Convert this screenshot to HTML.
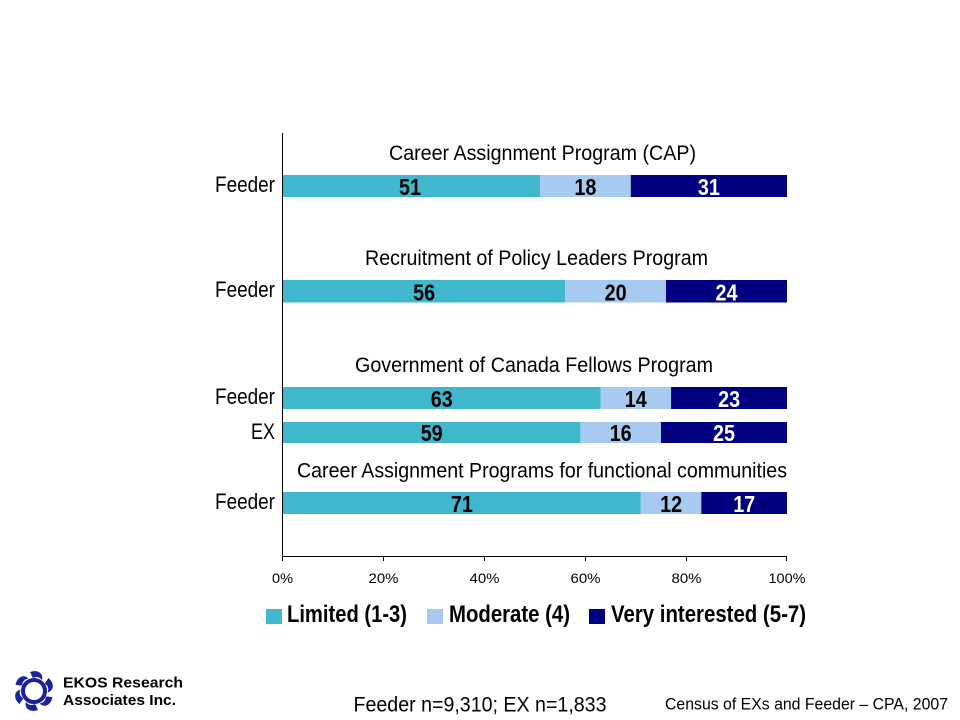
<!DOCTYPE html>
<html>
<head>
<meta charset="utf-8">
<style>
  html, body { margin:0; padding:0; background:#fff; }
  svg { display:block; }
  text { font-family: "Liberation Sans Narrow", "Liberation Sans", sans-serif; }
</style>
</head>
<body>
<svg width="960" height="720" viewBox="0 0 960 720" xmlns="http://www.w3.org/2000/svg">
  <rect width="960" height="720" fill="#fff"/>

  <!-- Bars -->
  <rect x="283" y="175" width="257" height="22" fill="#3FB7CD"/>
  <rect x="540" y="175" width="90.8" height="22" fill="#A6CAF0"/>
  <rect x="630.8" y="175" width="156.2" height="22" fill="#000080"/>

  <rect x="283" y="280" width="282.2" height="22.5" fill="#3FB7CD"/>
  <rect x="565.2" y="280" width="100.8" height="22.5" fill="#A6CAF0"/>
  <rect x="666" y="280" width="121" height="22.5" fill="#000080"/>

  <rect x="283" y="387" width="317.5" height="22" fill="#3FB7CD"/>
  <rect x="600.5" y="387" width="70.6" height="22" fill="#A6CAF0"/>
  <rect x="671.1" y="387" width="115.9" height="22" fill="#000080"/>

  <rect x="283" y="422" width="297.4" height="21" fill="#3FB7CD"/>
  <rect x="580.4" y="422" width="80.6" height="21" fill="#A6CAF0"/>
  <rect x="661" y="422" width="126" height="21" fill="#000080"/>

  <rect x="283" y="492" width="357.8" height="22" fill="#3FB7CD"/>
  <rect x="640.8" y="492" width="60.5" height="22" fill="#A6CAF0"/>
  <rect x="701.3" y="492" width="85.7" height="22" fill="#000080"/>

  <!-- Axes -->
  <line x1="282.5" y1="133" x2="282.5" y2="556.5" stroke="#000" stroke-width="1"/>
  <line x1="282.5" y1="556.5" x2="787" y2="556.5" stroke="#000" stroke-width="1"/>
  <g stroke="#000" stroke-width="1">
    <line x1="282.5" y1="556" x2="282.5" y2="561"/>
    <line x1="383.5" y1="556" x2="383.5" y2="561"/>
    <line x1="484.5" y1="556" x2="484.5" y2="561"/>
    <line x1="585.5" y1="556" x2="585.5" y2="561"/>
    <line x1="686.5" y1="556" x2="686.5" y2="561"/>
    <line x1="786.5" y1="556" x2="786.5" y2="561"/>
  </g>

  <!-- Tick labels -->
  <g font-size="14" fill="#000" text-anchor="middle">
    <text x="282.5" y="583" textLength="21" lengthAdjust="spacingAndGlyphs" style="font-family:'Liberation Sans',sans-serif">0%</text>
    <text x="383.5" y="583" textLength="30" lengthAdjust="spacingAndGlyphs" style="font-family:'Liberation Sans',sans-serif">20%</text>
    <text x="484.5" y="583" textLength="30" lengthAdjust="spacingAndGlyphs" style="font-family:'Liberation Sans',sans-serif">40%</text>
    <text x="585.5" y="583" textLength="30" lengthAdjust="spacingAndGlyphs" style="font-family:'Liberation Sans',sans-serif">60%</text>
    <text x="686.5" y="583" textLength="30" lengthAdjust="spacingAndGlyphs" style="font-family:'Liberation Sans',sans-serif">80%</text>
    <text x="787" y="583" textLength="37" lengthAdjust="spacingAndGlyphs" style="font-family:'Liberation Sans',sans-serif">100%</text>
  </g>

  <!-- Group titles -->
  <g font-size="21.5" fill="#000">
    <text x="389" y="160" textLength="307" lengthAdjust="spacingAndGlyphs">Career Assignment Program (CAP)</text>
    <text x="365" y="265" textLength="343" lengthAdjust="spacingAndGlyphs">Recruitment of Policy Leaders Program</text>
    <text x="355" y="372" textLength="358" lengthAdjust="spacingAndGlyphs">Government of Canada Fellows Program</text>
    <text x="297" y="477.5" textLength="490" lengthAdjust="spacingAndGlyphs">Career Assignment Programs for functional communities</text>
  </g>

  <!-- Row labels -->
  <g font-size="22" fill="#000" text-anchor="end">
    <text x="275" y="192" textLength="60" lengthAdjust="spacingAndGlyphs">Feeder</text>
    <text x="275" y="297" textLength="60" lengthAdjust="spacingAndGlyphs">Feeder</text>
    <text x="275" y="404" textLength="60" lengthAdjust="spacingAndGlyphs">Feeder</text>
    <text x="275" y="439" textLength="24" lengthAdjust="spacingAndGlyphs">EX</text>
    <text x="275" y="509" textLength="60" lengthAdjust="spacingAndGlyphs">Feeder</text>
  </g>

  <!-- Value labels -->
  <g font-size="23" font-weight="bold" text-anchor="middle">
    <text x="410" y="195" fill="#000" textLength="22" lengthAdjust="spacingAndGlyphs">51</text>
    <text x="585.4" y="195" fill="#000" textLength="22" lengthAdjust="spacingAndGlyphs">18</text>
    <text x="708.9" y="195" fill="#fff" textLength="22" lengthAdjust="spacingAndGlyphs">31</text>

    <text x="424.1" y="300.5" fill="#000" textLength="22" lengthAdjust="spacingAndGlyphs">56</text>
    <text x="615.6" y="300.5" fill="#000" textLength="22" lengthAdjust="spacingAndGlyphs">20</text>
    <text x="726.5" y="300.5" fill="#fff" textLength="22" lengthAdjust="spacingAndGlyphs">24</text>

    <text x="441.8" y="407" fill="#000" textLength="22" lengthAdjust="spacingAndGlyphs">63</text>
    <text x="635.8" y="407" fill="#000" textLength="22" lengthAdjust="spacingAndGlyphs">14</text>
    <text x="729.1" y="407" fill="#fff" textLength="22" lengthAdjust="spacingAndGlyphs">23</text>

    <text x="431.7" y="441" fill="#000" textLength="22" lengthAdjust="spacingAndGlyphs">59</text>
    <text x="620.7" y="441" fill="#000" textLength="22" lengthAdjust="spacingAndGlyphs">16</text>
    <text x="724" y="441" fill="#fff" textLength="22" lengthAdjust="spacingAndGlyphs">25</text>

    <text x="461.9" y="512" fill="#000" textLength="22" lengthAdjust="spacingAndGlyphs">71</text>
    <text x="671.1" y="512" fill="#000" textLength="22" lengthAdjust="spacingAndGlyphs">12</text>
    <text x="744.2" y="512" fill="#fff" textLength="22" lengthAdjust="spacingAndGlyphs">17</text>
  </g>

  <!-- Legend -->
  <rect x="266" y="609" width="16" height="15" fill="#3FB7CD"/>
  <rect x="427" y="609" width="16" height="15" fill="#A6CAF0"/>
  <rect x="589" y="609" width="16" height="15" fill="#000080"/>
  <g font-size="24" font-weight="bold" fill="#000">
    <text x="287" y="622" textLength="120" lengthAdjust="spacingAndGlyphs">Limited (1-3)</text>
    <text x="449" y="622" textLength="121" lengthAdjust="spacingAndGlyphs">Moderate (4)</text>
    <text x="611" y="622" textLength="195" lengthAdjust="spacingAndGlyphs">Very interested (5-7)</text>
  </g>

  <!-- Logo -->
  <g transform="translate(34,691)">
    <circle r="11" fill="none" stroke="#1a239c" stroke-width="4"/>
    <g fill="#1a239c">
      <path d="M-4,-19 C4,-22 10,-17 8,-11 C6,-14 2,-15 -1,-13 Z"/>
      <path d="M-4,-19 C4,-22 10,-17 8,-11 C6,-14 2,-15 -1,-13 Z" transform="rotate(60)"/>
      <path d="M-4,-19 C4,-22 10,-17 8,-11 C6,-14 2,-15 -1,-13 Z" transform="rotate(120)"/>
      <path d="M-4,-19 C4,-22 10,-17 8,-11 C6,-14 2,-15 -1,-13 Z" transform="rotate(180)"/>
      <path d="M-4,-19 C4,-22 10,-17 8,-11 C6,-14 2,-15 -1,-13 Z" transform="rotate(240)"/>
      <path d="M-4,-19 C4,-22 10,-17 8,-11 C6,-14 2,-15 -1,-13 Z" transform="rotate(300)"/>
      <circle cx="0" cy="-16" r="2.5"/>
      <circle cx="13.9" cy="-8" r="2.5"/>
      <circle cx="13.9" cy="8" r="2.5"/>
      <circle cx="0" cy="16" r="2.5"/>
      <circle cx="-13.9" cy="8" r="2.5"/>
      <circle cx="-13.9" cy="-8" r="2.5"/>
    </g>
    <circle r="7.5" fill="#fff"/>
  </g>

  <!-- Footer text -->
  <g font-size="15" font-weight="bold" fill="#000">
    <text x="63" y="687.5" textLength="120" lengthAdjust="spacingAndGlyphs" style="font-family:'Liberation Sans',sans-serif">EKOS Research</text>
    <text x="63" y="705" textLength="113" lengthAdjust="spacingAndGlyphs" style="font-family:'Liberation Sans',sans-serif">Associates Inc.</text>
  </g>
  <text x="353.5" y="711.5" font-size="21" fill="#000" textLength="253" lengthAdjust="spacingAndGlyphs">Feeder n=9,310; EX n=1,833</text>
  <text x="665" y="709.5" font-size="17" fill="#000" textLength="283" lengthAdjust="spacingAndGlyphs">Census of EXs and Feeder – CPA, 2007</text>
</svg>
</body>
</html>
